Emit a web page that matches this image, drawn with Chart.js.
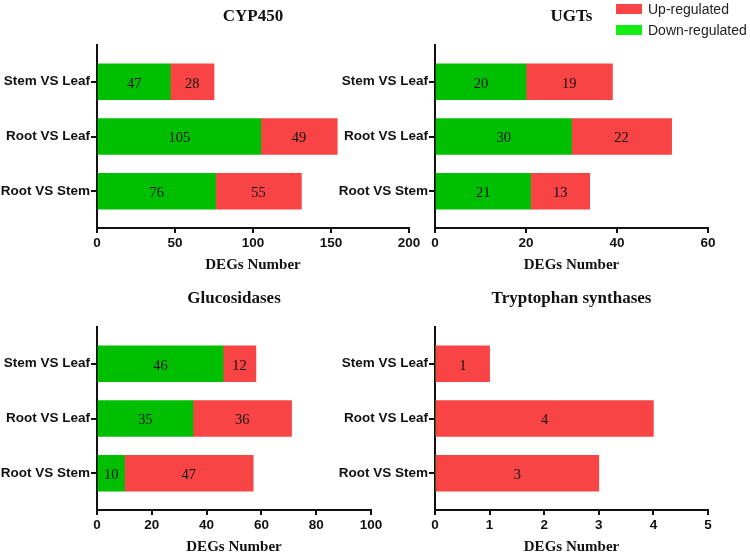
<!DOCTYPE html>
<html lang="en">
<head>
    <meta charset="UTF-8">
    <title>DEGs Number</title>
    <style>
        body { margin: 0; background: #fff; overflow: hidden; }
        #page { position: relative; width: 750px; height: 553px; overflow: hidden; }
        canvas { position: absolute; }
        #legend { position: absolute; left: 616px; top: -2px; font: 14px "Liberation Sans", Arial, sans-serif; color: #222; }
        #legend div { display: flex; align-items: center; height: 21px; }
        #legend span.box { display: inline-block; width: 26px; height: 10px; margin-right: 6px; }
    </style>
</head>
<body>
<div id="page">
    <canvas id="c1" width="430" height="280" style="left:0;top:0"></canvas>
    <canvas id="c2" width="420" height="280" style="left:330px;top:0"></canvas>
    <canvas id="c3" width="430" height="280" style="left:0;top:282px"></canvas>
    <canvas id="c4" width="420" height="280" style="left:330px;top:282px"></canvas>
    <div id="legend"></div>
</div>

<script src="https://cdn.jsdelivr.net/npm/chart.js"></script>
<script>
    // data
    const categories = ['Stem VS Leaf', 'Root VS Leaf', 'Root VS Stem'];

    const cypDown = [47, 105, 76];
    const cypUp = [28, 49, 55];

    const ugtDown = [20, 30, 21];
    const ugtUp = [19, 22, 13];

    const glucDown = [46, 35, 10];
    const glucUp = [12, 36, 47];

    const tsDown = [0, 0, 0];
    const tsUp = [1, 4, 3];

    const seriesNames = ['Up-regulated', 'Down-regulated'];

    const upColor = '#f84444';
    const downColor = '#00be00';
    const legendColors = ['#f84444', '#14ee14'];

    // numbers written inside each bar segment
    const valueLabels = {
        id: 'valueLabels',
        afterDatasetsDraw(chart) {
            const ctx = chart.ctx;
            ctx.save();
            ctx.font = '14.5px "Liberation Serif", "Times New Roman", serif';
            ctx.fillStyle = '#111';
            ctx.textAlign = 'center';
            ctx.textBaseline = 'middle';
            chart.data.datasets.forEach((ds, di) => {
                const meta = chart.getDatasetMeta(di);
                meta.data.forEach((bar, i) => {
                    const v = ds.data[i].x;
                    if (!v) return;
                    ctx.fillText(String(v), (bar.x + bar.base) / 2, bar.y + 2);
                });
            });
            ctx.restore();
        }
    };

    // category rows sit on a linear axis so the gap above/below them can be set
    const yMin = -0.67, yMax = 2.67;

    function makeChart(id, title, down, up, xMax, step, yWidth, rightPad) {
        const ctx = document.getElementById(id).getContext('2d');
        return new Chart(ctx, {
            type: 'bar',
            data: {
                datasets: [
                    {
                        label: seriesNames[1],
                        data: down.map((v, i) => ({ x: v, y: i })),
                        backgroundColor: downColor,
                        borderWidth: 0
                    },
                    {
                        label: seriesNames[0],
                        data: up.map((v, i) => ({ x: v, y: i })),
                        backgroundColor: upColor,
                        borderWidth: 0
                    }
                ]
            },
            options: {
                indexAxis: 'y',
                responsive: false,
                animation: false,
                layout: { padding: { left: 0, right: rightPad, top: 0, bottom: 0 } },
                datasets: { bar: { barThickness: 36 } },
                plugins: {
                    legend: { display: false },
                    tooltip: { enabled: false },
                    title: {
                        display: true,
                        text: title,
                        fullSize: false,
                        color: '#111',
                        font: { family: '"Liberation Serif", "Times New Roman", serif', size: 17, weight: 'bold' },
                        padding: { top: 6, bottom: 18.6 }
                    }
                },
                scales: {
                    x: {
                        type: 'linear',
                        stacked: true,
                        min: 0,
                        max: xMax,
                        border: { display: true, color: '#111', width: 2 },
                        grid: { drawOnChartArea: false, drawTicks: true, tickLength: 5, color: '#111', lineWidth: 2 },
                        ticks: {
                            stepSize: step,
                            padding: 2,
                            color: '#111',
                            font: { family: '"Liberation Sans", Arial, sans-serif', size: 13.5, weight: 'bold' }
                        },
                        title: {
                            display: true,
                            text: 'DEGs Number',
                            color: '#111',
                            font: { family: '"Liberation Serif", "Times New Roman", serif', size: 15, weight: 'bold' },
                            padding: { top: 0, bottom: 6 }
                        },
                        afterFit: s => { s.height = 52; }
                    },
                    y: {
                        type: 'linear',
                        stacked: true,
                        reverse: true,
                        offset: false,
                        bounds: 'data',
                        min: yMin,
                        max: yMax,
                        afterBuildTicks: s => {
                            s.ticks = categories.map((c, i) => ({ value: i }));
                            s.min = yMin;
                            s.max = yMax;
                        },
                        border: { display: true, color: '#111', width: 2 },
                        grid: { offset: false, drawOnChartArea: false, drawTicks: true, tickLength: 6, color: '#111', lineWidth: 2 },
                        ticks: {
                            padding: 1,
                            color: '#111',
                            font: { family: '"Liberation Sans", Arial, sans-serif', size: 13.5, weight: 'bold' },
                            callback: v => categories[v]
                        },
                        afterFit: s => { s.width = yWidth; }
                    }
                }
            },
            plugins: [valueLabels]
        });
    }

    makeChart('c1', 'CYP450', cypDown, cypUp, 200, 50, 97, 21);
    makeChart('c2', 'UGTs', ugtDown, ugtUp, 60, 20, 105, 42);
    makeChart('c3', 'Glucosidases', glucDown, glucUp, 100, 20, 97, 59);
    makeChart('c4', 'Tryptophan synthases', tsDown, tsUp, 5, 1, 105, 42);

    // legend, top right
    const legend = document.getElementById('legend');
    seriesNames.forEach((name, i) => {
        const row = document.createElement('div');
        row.innerHTML = '<span class="box" style="background:' + legendColors[i] + '"></span>' + name;
        legend.appendChild(row);
    });
</script>
</body>
</html>
